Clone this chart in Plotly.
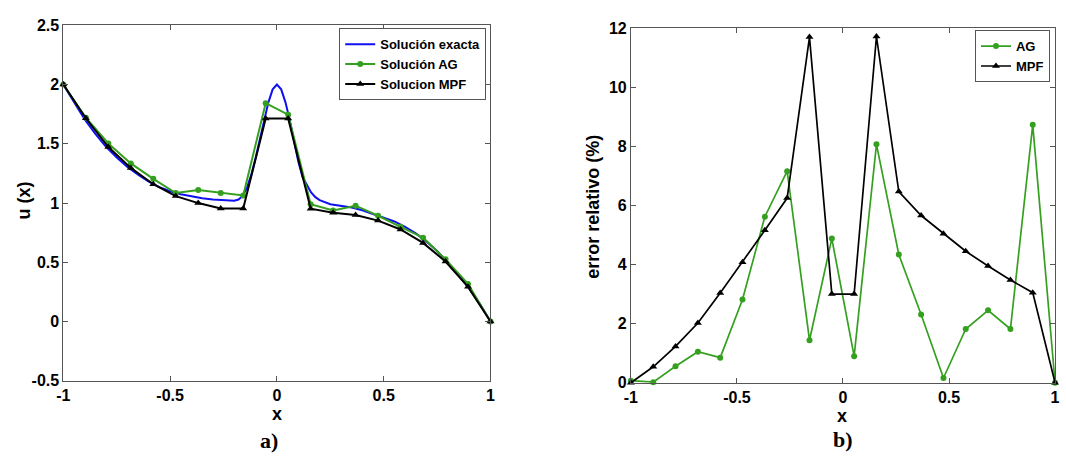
import plotly.graph_objects as go

# ---------------- data ----------------
x_nodes = [-1.0, -0.8947, -0.7895, -0.6842, -0.5789, -0.4737, -0.3684, -0.2632, -0.1579, -0.0526,
           0.0526, 0.1579, 0.2632, 0.3684, 0.4737, 0.5789, 0.6842, 0.7895, 0.8947, 1.0]

u_ag = [2.0, 1.72, 1.503, 1.335, 1.205, 1.085, 1.111, 1.086, 1.065, 1.843,
        1.746, 0.99, 0.938, 0.978, 0.893, 0.80, 0.708, 0.525, 0.318, 0.0]
u_mpf = [2.0, 1.716, 1.473, 1.297, 1.159, 1.059, 1.0, 0.954, 0.954, 1.714,
         1.714, 0.953, 0.919, 0.899, 0.852, 0.777, 0.664, 0.507, 0.293, 0.0]

x_exact = [-1.0, -0.95, -0.9, -0.85, -0.8, -0.75, -0.7, -0.65, -0.6, -0.55, -0.5, -0.45, -0.4,
           -0.35, -0.3, -0.25, -0.2, -0.18, -0.16, -0.14, -0.12, -0.1, -0.08, -0.06, -0.04,
           -0.02, 0.0, 0.02, 0.04, 0.06, 0.08, 0.1, 0.12, 0.14, 0.16, 0.18, 0.2, 0.25, 0.3,
           0.35, 0.4, 0.45, 0.5, 0.55, 0.6, 0.65, 0.7, 0.75, 0.8, 0.85, 0.9, 0.95, 1.0]
u_exact = [2.0, 1.85, 1.705, 1.585, 1.475, 1.385, 1.305, 1.24, 1.18, 1.135, 1.1, 1.075, 1.055,
           1.04, 1.03, 1.022, 1.02, 1.03, 1.06, 1.13, 1.24, 1.38, 1.54, 1.71, 1.85,
           1.96, 2.0, 1.96, 1.85, 1.7, 1.52, 1.35, 1.22, 1.15, 1.09, 1.05, 1.025, 0.99, 0.975,
           0.962, 0.94, 0.91, 0.878, 0.845, 0.8, 0.745, 0.675, 0.595, 0.5, 0.395, 0.28, 0.15, 0.0]

err_ag = [0.07, 0.02, 0.56, 1.05, 0.85, 2.82, 5.62, 7.16, 1.44, 4.88,
          0.9, 8.07, 4.34, 2.31, 0.16, 1.82, 2.45, 1.82, 8.73, 0.0]
err_mpf = [0.0, 0.54, 1.23, 2.02, 3.04, 4.08, 5.16, 6.25, 11.7, 3.0,
           3.0, 11.72, 6.47, 5.66, 5.04, 4.45, 3.95, 3.48, 3.05, 0.0]

x_ticks = [-1, -0.5, 0, 0.5, 1]
x_ticklabels = ["-1", "-0.5", "0", "0.5", "1"]
u_ticks = [-0.5, 0, 0.5, 1, 1.5, 2, 2.5]
u_ticklabels = ["-0.5", "0", "0.5", "1", "1.5", "2", "2.5"]
e_ticks = [0, 2, 4, 6, 8, 10, 12]
e_ticklabels = ["0", "2", "4", "6", "8", "10", "12"]

# ---------------- styles ----------------
W, H = 1066, 464
BLUE = "#1010f0"
GREEN = "#35a01f"
BLACK = "#000000"
AXC = "#555555"
TXT = "#000000"
SANS = "Liberation Sans, Arial, sans-serif"
SERIF = "Liberation Serif, Times New Roman, serif"

def px_x(p):
    return p / W

def px_y(p):
    return 1 - p / H

fig = go.Figure()

fig.add_trace(go.Scatter(x=x_exact, y=u_exact, mode="lines", name="Solución exacta",
                         line=dict(color=BLUE, width=2), xaxis="x", yaxis="y", legend="legend",
                         cliponaxis=False))
fig.add_trace(go.Scatter(x=x_nodes, y=u_ag, mode="lines+markers", name="Solución AG",
                         line=dict(color=GREEN, width=2), marker=dict(symbol="circle", size=6, color=GREEN),
                         xaxis="x", yaxis="y", legend="legend", cliponaxis=False))
fig.add_trace(go.Scatter(x=x_nodes, y=u_mpf, mode="lines+markers", name="Solucion MPF",
                         line=dict(color=BLACK, width=2), marker=dict(symbol="triangle-up", size=7, color=BLACK),
                         xaxis="x", yaxis="y", legend="legend", cliponaxis=False))

fig.add_trace(go.Scatter(x=x_nodes, y=err_ag, mode="lines+markers", name="AG",
                         line=dict(color=GREEN, width=1.7), marker=dict(symbol="circle", size=6, color=GREEN),
                         xaxis="x2", yaxis="y2", legend="legend2", cliponaxis=False))
fig.add_trace(go.Scatter(x=x_nodes, y=err_mpf, mode="lines+markers", name="MPF",
                         line=dict(color=BLACK, width=1.7), marker=dict(symbol="triangle-up", size=7, color=BLACK),
                         xaxis="x2", yaxis="y2", legend="legend2", cliponaxis=False))

tickfont = dict(family=SANS, size=16, color=TXT, weight="bold")
axis_common = dict(showline=True, linecolor=AXC, linewidth=1, mirror="ticks", ticks="inside",
                   ticklen=5, tickcolor=AXC, showgrid=False, zeroline=False, tickfont=tickfont)

fig.update_layout(
    width=W, height=H, margin=dict(l=0, r=0, t=0, b=0),
    paper_bgcolor="white", plot_bgcolor="white",
    xaxis=dict(domain=[px_x(57), px_x(489)], anchor="y", range=[-1, 1],
               tickvals=x_ticks, ticktext=x_ticklabels, **axis_common),
    yaxis=dict(domain=[px_y(387), px_y(18)], anchor="x", range=[-0.5, 2.5],
               tickvals=u_ticks, ticktext=u_ticklabels, **axis_common),
    xaxis2=dict(domain=[px_x(631), px_x(1060)], anchor="y2", range=[-1, 1],
                tickvals=x_ticks, ticktext=x_ticklabels, **axis_common),
    yaxis2=dict(domain=[px_y(389), px_y(21)], anchor="x2", range=[0, 12],
                tickvals=e_ticks, ticktext=e_ticklabels, **axis_common),
    legend=dict(x=px_x(336), y=px_y(21), xanchor="left", yanchor="top",
                bordercolor=AXC, borderwidth=1, bgcolor="white",
                font=dict(family=SANS, size=13, color=TXT, weight="bold"),
                tracegroupgap=0, itemwidth=30),
    legend2=dict(x=px_x(979), y=px_y(23), xanchor="left", yanchor="top",
                 bordercolor=AXC, borderwidth=1, bgcolor="white",
                 font=dict(family=SANS, size=13, color=TXT, weight="bold"),
                 tracegroupgap=0, itemwidth=30),
    showlegend=True,
)

ann_font = dict(family=SANS, size=18, color=TXT, weight="bold")
annotations = [
    dict(text="x", x=px_x(273), y=px_y(421), font=ann_font),
    dict(text="x", x=px_x(845), y=px_y(424), font=ann_font),
    dict(text="u (x)", x=px_x(17), y=px_y(200), textangle=-90, font=ann_font),
    dict(text="error relativo (%)", x=px_x(593), y=px_y(206), textangle=-90, font=ann_font),
    dict(text="a)", x=px_x(265), y=px_y(449), font=dict(family=SERIF, size=22, color=TXT, weight="bold")),
    dict(text="b)", x=px_x(846), y=px_y(448), font=dict(family=SERIF, size=22, color=TXT, weight="bold")),
]
for a in annotations:
    a.update(xref="paper", yref="paper", showarrow=False, xanchor="center", yanchor="middle")
fig.update_layout(annotations=annotations)

fig.write_html(
    "out.html",
    config={"displayModeBar": False},
    post_script="document.body.style.margin='0';document.body.style.overflow='hidden';",
)
